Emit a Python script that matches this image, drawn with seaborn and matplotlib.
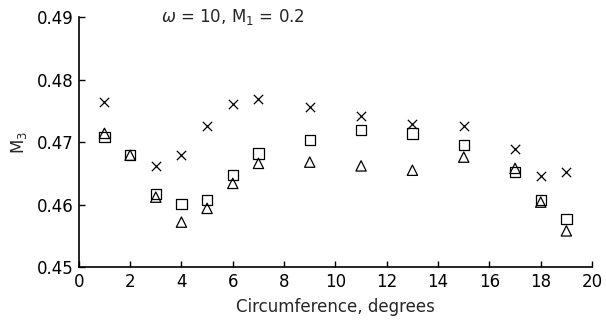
import numpy as np
import pandas as pd
import matplotlib
matplotlib.use("Agg")
import matplotlib.pyplot as plt
import seaborn as sns

x_cross = [1, 3, 4, 5, 6, 7, 9, 11, 13, 15, 17, 18, 19]
y_cross = [0.4764, 0.4662, 0.4679, 0.4726, 0.4761, 0.4769, 0.4756, 0.4742, 0.4729, 0.4726, 0.4689, 0.4646, 0.4652]

x_square = [1, 2, 3, 4, 5, 6, 7, 9, 11, 13, 15, 17, 18, 19]
y_square = [0.4708, 0.4679, 0.4617, 0.4601, 0.4607, 0.4647, 0.4682, 0.4703, 0.4719, 0.4714, 0.4695, 0.4652, 0.4607, 0.4577]

x_tri = [1, 2, 3, 4, 5, 6, 7, 9, 11, 13, 15, 17, 18, 19]
y_tri = [0.4714, 0.4679, 0.4612, 0.4572, 0.4594, 0.4634, 0.4666, 0.4668, 0.4662, 0.4655, 0.4676, 0.4658, 0.4604, 0.4558]

x_ticks = [0, 2, 4, 6, 8, 10, 12, 14, 16, 18, 20]
y_ticks = [0.45, 0.46, 0.47, 0.48, 0.49]

sns.set_theme(style="ticks")
plt.rcParams['font.family'] = ['DejaVu Sans']

fig = plt.figure(figsize=(6.06, 3.23), dpi=100)
ax = fig.add_axes([0.130, 0.173, 0.847, 0.774])

sns.scatterplot(x=x_cross, y=y_cross, marker='x', color='black', s=45, linewidth=0.9, ax=ax)
sns.scatterplot(x=x_square, y=y_square, marker='s', facecolor='none', edgecolor='black', s=55, linewidth=0.9, ax=ax)
sns.scatterplot(x=x_tri, y=y_tri, marker='^', facecolor='none', edgecolor='black', s=55, linewidth=0.9, ax=ax)

ax.set_xlim(0, 20)
ax.set_ylim(0.45, 0.49)
ax.set_xticks(x_ticks)
ax.set_yticks(y_ticks)
ax.set_yticklabels([f"{v:.2f}" for v in y_ticks])
ax.tick_params(direction='in', length=4, width=1, labelsize=12, colors='black')
ax.tick_params(axis='x', pad=4)
for s in ['top', 'right']:
    ax.spines[s].set_visible(False)
for s in ['left', 'bottom']:
    ax.spines[s].set_linewidth(1.2)
    ax.spines[s].set_color('black')

ax.set_xlabel("Circumference, degrees", fontsize=12, labelpad=5)
ax.set_ylabel("M$_3$", fontsize=12, labelpad=6)
ax.text(0.16, 1.0, "$\\omega$ = 10, M$_1$ = 0.2", transform=ax.transAxes,
        fontsize=12, ha='left', va='center')

fig.savefig("out.png", dpi=100)
